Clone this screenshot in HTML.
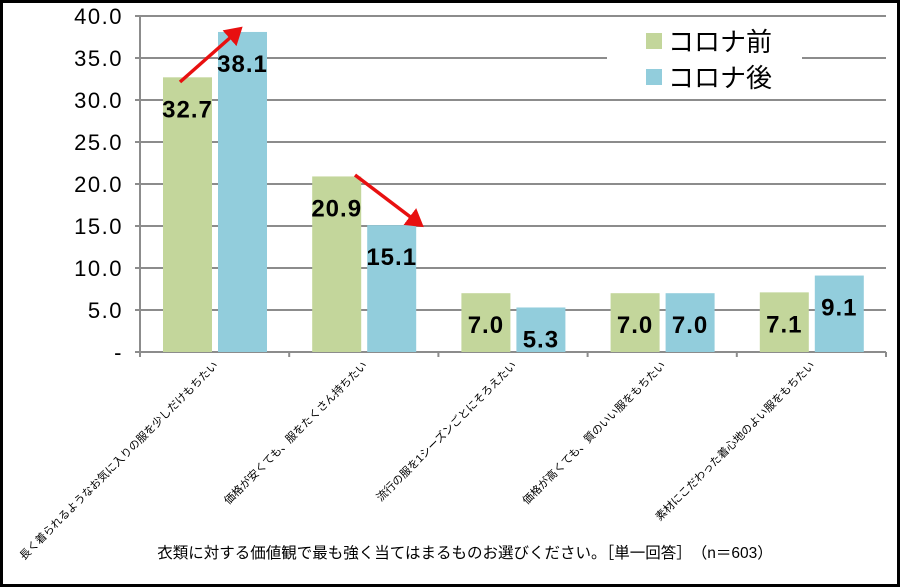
<!DOCTYPE html>
<html><head><meta charset="utf-8"><style>
body{margin:0;background:#fff;}
svg{display:block;font-family:"Liberation Sans","Noto Sans CJK JP",sans-serif;}
</style></head><body>
<svg id="chart" width="901" height="588" viewBox="0 0 901 588">
<rect x="1.5" y="1.5" width="897" height="584" fill="#fff" stroke="#000" stroke-width="3"/>
<g id="grid"></g><g id="bars"></g><g id="labels"></g>
<g>
<rect x="607" y="24" width="195" height="72" fill="#fff"/>
<rect x="646" y="33" width="16" height="16" fill="#c3d69b"/>
<text x="668" y="51" font-size="26">コロナ前</text>
<rect x="646" y="69" width="16" height="16" fill="#92cddc"/>
<text x="668" y="87" font-size="26">コロナ後</text>
</g>
<defs><marker id="ah" markerWidth="6" markerHeight="6" refX="4" refY="3" orient="auto" markerUnits="strokeWidth"><path d="M0,0 L5,3 L0,6 Z" fill="#e81010"/></marker></defs>
<line x1="180" y1="82" x2="240" y2="29" stroke="#e81010" stroke-width="3.5" marker-end="url(#ah)"/>
<line x1="355" y1="175" x2="421" y2="225" stroke="#e81010" stroke-width="3.5" marker-end="url(#ah)"/>
<text x="465" y="558" font-size="15.5" text-anchor="middle">衣類に対する価値観で最も強く当てはまるものお選びください。［単一回答］　（n＝603）</text>
</svg>
<script>
const categories=["長く着られるようなお気に入りの服を少しだけもちたい","価格が安くても、服をたくさん持ちたい","流行の服を1シーズンごとにそろえたい","価格が高くても、質のいい服をもちたい","素材にこだわった着心地のよい服をもちたい"];
const before=[32.7,20.9,7.0,7.0,7.1];
const after=[38.1,15.1,5.3,7.0,9.1];
const yTicks=[0,5,10,15,20,25,30,35,40];
const yTickLabels=["-","5.0","10.0","15.0","20.0","25.0","30.0","35.0","40.0"];
const NS="http://www.w3.org/2000/svg";
const L=140,R=886,T=16,B=352,ymax=40;
const y=v=>B-(B-T)*v/ymax;
const gw=(R-L)/categories.length;
function mk(tag,attrs,parent,txt){const e=document.createElementNS(NS,tag);for(const k in attrs)e.setAttribute(k,attrs[k]);if(txt!==undefined)e.textContent=txt;document.getElementById(parent).appendChild(e);return e;}
yTicks.forEach((t,i)=>{
 if(t>0){const g=mk('line',{x1:L,x2:R,y1:y(t),y2:y(t),stroke:'#8c8c8c','stroke-width':2},'grid');
 
 }
 const tk=mk('line',{x1:L-5,x2:L,y1:y(t),y2:y(t),stroke:'#8c8c8c','stroke-width':2},'grid');
 
 
 const tl=mk('text',{x:123,y:y(t)+8,'font-size':22,'letter-spacing':1.5,'text-anchor':'end'},'labels',yTickLabels[i]);
 
 
});
const ax=mk('line',{x1:L,x2:L,y1:T,y2:B,stroke:'#8c8c8c','stroke-width':2},'grid');


const xa=mk('line',{x1:L,x2:R,y1:B,y2:B,stroke:'#8c8c8c','stroke-width':2},'grid');


for(let i=0;i<=categories.length;i++){const t=mk('line',{x1:L+i*gw,x2:L+i*gw,y1:B,y2:B+5,stroke:'#8c8c8c','stroke-width':2},'grid');
 
 }
categories.forEach((c,i)=>{
 const gx=L+i*gw;
 [[before[i],'#c3d69b',23,'bar-before'],[after[i],'#92cddc',78,'bar-after']].forEach(([v,col,off,nm])=>{
  const b=mk('rect',{x:gx+off,y:y(v),width:49,height:B-y(v),fill:col},'bars');
  
  
  const vl=mk('text',{x:gx+off+24.5,y:y(v)+40,'font-size':24,'letter-spacing':1,'font-weight':'bold','text-anchor':'middle'},'labels',v.toFixed(1));
  
  
 });
 const cx=gx+gw/2+4,cy=B+14;
 const cl=mk('text',{x:cx,y:cy,'font-size':11,'text-anchor':'end',transform:`rotate(-45 ${cx} ${cy})`},'labels',c);
 
 
});
</script>
</body></html>
